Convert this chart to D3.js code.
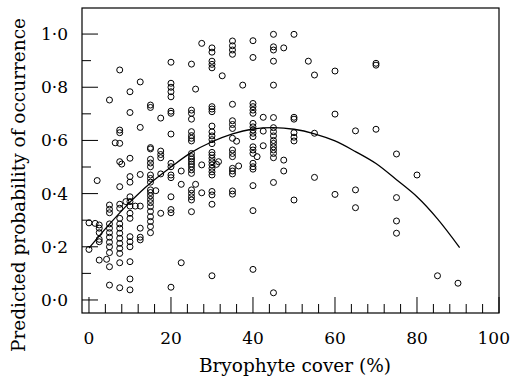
<!DOCTYPE html>
<html><head><meta charset="utf-8">
<script src="https://cdn.jsdelivr.net/npm/d3@7"></script>
<style>html,body{margin:0;padding:0;background:#fff;}svg{display:block;}</style>
</head><body>
<script>
// Observed points grouped by bryophyte cover column
const coverCols = [0, 1.5, 2, 2.5, 4.3, 5, 6.4, 7.5, 8, 9, 10, 11.3, 12.5, 15, 16.3, 17.5, 20, 22.5, 25, 26, 27.5, 30, 31.1, 31.6, 32.5, 35, 36, 36.5, 37.5, 40, 41, 42.5, 45, 47.5, 50, 53.5, 55, 60, 65, 70, 75, 80, 85, 90];
const probCols = [
  [0.29, 0.19],
  [0.288],
  [0.449],
  [0.282, 0.27, 0.253, 0.228, 0.219, 0.15],
  [0.153],
  [0.752, 0.357, 0.341, 0.328, 0.286, 0.27, 0.253, 0.236, 0.217, 0.2, 0.178, 0.125, 0.056],
  [0.591],
  [0.865, 0.639, 0.629, 0.589, 0.52, 0.426, 0.36, 0.345, 0.307, 0.286, 0.27, 0.251, 0.232, 0.213, 0.194, 0.175, 0.14, 0.046],
  [0.511],
  [0.37],
  [0.783, 0.705, 0.533, 0.464, 0.443, 0.388, 0.37, 0.353, 0.326, 0.307, 0.238, 0.219, 0.2, 0.144, 0.079, 0.038],
  [0.353],
  [0.82, 0.649, 0.472, 0.353, 0.27, 0.236, 0.226],
  [0.733, 0.724, 0.573, 0.568, 0.529, 0.515, 0.501, 0.47, 0.457, 0.443, 0.414, 0.404, 0.392, 0.378, 0.366, 0.351, 0.333, 0.313, 0.295, 0.276, 0.253],
  [0.411],
  [0.684, 0.56, 0.547, 0.535, 0.474, 0.326],
  [0.894, 0.815, 0.8, 0.783, 0.764, 0.71, 0.702, 0.624, 0.514, 0.501, 0.47, 0.46, 0.388, 0.34, 0.328, 0.048],
  [0.485, 0.435, 0.14],
  [0.887, 0.714, 0.702, 0.68, 0.633, 0.618, 0.608, 0.598, 0.551, 0.539, 0.53, 0.521, 0.511, 0.501, 0.489, 0.476, 0.414, 0.401, 0.388, 0.376, 0.332],
  [0.793, 0.435],
  [0.965, 0.508, 0.403],
  [0.948, 0.932, 0.898, 0.886, 0.873, 0.727, 0.718, 0.708, 0.654, 0.632, 0.617, 0.603, 0.588, 0.555, 0.545, 0.533, 0.52, 0.508, 0.495, 0.482, 0.47, 0.408, 0.395, 0.36, 0.091],
  [0.51],
  [0.52],
  [0.843],
  [0.974, 0.956, 0.94, 0.924, 0.736, 0.674, 0.66, 0.645, 0.608, 0.564, 0.551, 0.539, 0.495, 0.485, 0.474, 0.41, 0.398],
  [0.597],
  [0.504],
  [0.808],
  [0.975, 0.912, 0.739, 0.727, 0.714, 0.702, 0.664, 0.651, 0.639, 0.627, 0.614, 0.576, 0.564, 0.551, 0.514, 0.501, 0.492, 0.43, 0.336, 0.115],
  [0.539],
  [0.687, 0.635, 0.58],
  [0.999, 0.952, 0.94, 0.898, 0.808, 0.686, 0.648, 0.633, 0.617, 0.6, 0.589, 0.576, 0.564, 0.551, 0.535, 0.442, 0.027],
  [0.948, 0.526, 0.485],
  [0.999, 0.687, 0.68, 0.629, 0.612, 0.598, 0.376],
  [0.898],
  [0.846, 0.627, 0.461],
  [0.861, 0.699, 0.397],
  [0.636, 0.414, 0.347],
  [0.89, 0.883, 0.642],
  [0.549, 0.385, 0.297, 0.251],
  [0.47],
  [0.091],
  [0.063]
];
// Fitted curve
const fitCover = [0, 5, 10, 15, 20, 25, 30, 35, 40, 45, 50, 55, 60, 65, 70, 75, 80, 85, 90.4];
const fitProb = [0.195, 0.285, 0.368, 0.44, 0.5, 0.555, 0.595, 0.625, 0.643, 0.648, 0.642, 0.625, 0.598, 0.558, 0.513, 0.452, 0.388, 0.305, 0.197];
const xTickValues = [0, 20, 40, 60, 80, 100];
const xMinorTicks = d3.range(0, 101, 4);
const yTickValues = [0, 0.2, 0.4, 0.6, 0.8, 1.0];
const yTickLabels = ["0·0", "0·2", "0·4", "0·6", "0·8", "1·0"];
const yMinorTicks = [0.1, 0.3, 0.5, 0.7, 0.9];
const xTitle = "Bryophyte cover (%)";
const yTitle = "Predicted probability of occurrence";

const W = 512, H = 379;
const L = 82, R = 499, T = 8, B = 313;
const FONT = "'DejaVu Serif', serif";

const svg = d3.select("body").append("svg").attr("width", W).attr("height", H);
const x = d3.scaleLinear().domain([-1.7, 100]).range([L, R]);
const y = d3.scaleLinear().domain([-0.049, 1.098]).range([B, T]);

const points = [];
coverCols.forEach((c, i) => probCols[i].forEach(p => points.push([c, p])));

// frame
svg.append("rect").attr("x", L).attr("y", T).attr("width", R - L).attr("height", B - T)
  .attr("fill", "none").attr("stroke", "#000").attr("stroke-width", 1.2);

// x ticks (inward)
const gx = svg.append("g");
gx.selectAll("line.minor").data(xMinorTicks.filter(v => v % 20 !== 0)).join("line")
  .attr("x1", d => x(d)).attr("x2", d => x(d)).attr("y1", B).attr("y2", B - 9)
  .attr("stroke", "#000").attr("stroke-width", 1);
gx.selectAll("line.major").data(xTickValues).join("line")
  .attr("x1", d => x(d)).attr("x2", d => x(d)).attr("y1", B).attr("y2", B - 16)
  .attr("stroke", "#000").attr("stroke-width", 1);
gx.selectAll("text").data(xTickValues).join("text")
  .attr("x", d => x(d)).attr("y", 344).attr("text-anchor", "middle")
  .attr("font-family", FONT).attr("font-size", 17).text(d => d)
  .each(function() {
    const w = this.getComputedTextLength();
    const cx = +this.getAttribute("x");
    if (cx + w / 2 > W - 2) this.setAttribute("x", W - 2 - w / 2);
  });

// y ticks (inward)
const gy = svg.append("g");
gy.selectAll("line.minor").data(yMinorTicks).join("line")
  .attr("x1", L).attr("x2", L + 9).attr("y1", d => y(d)).attr("y2", d => y(d))
  .attr("stroke", "#000").attr("stroke-width", 1);
gy.selectAll("line.major").data(yTickValues).join("line")
  .attr("x1", L).attr("x2", L + 16).attr("y1", d => y(d)).attr("y2", d => y(d))
  .attr("stroke", "#000").attr("stroke-width", 1);
gy.selectAll("text").data(yTickValues).join("text")
  .attr("x", 68).attr("y", d => y(d) + 6).attr("text-anchor", "end")
  .attr("font-family", FONT).attr("font-size", 17).text((d, i) => yTickLabels[i]);

// titles
svg.append("text").attr("x", 295).attr("y", 372).attr("text-anchor", "middle")
  .attr("font-family", FONT).attr("font-size", 18.5).text(xTitle);
svg.append("text").attr("transform", `translate(25,185) rotate(-90)`)
  .attr("text-anchor", "middle").attr("font-family", FONT).attr("font-size", 18.5).text(yTitle);

// points
svg.append("g").selectAll("circle").data(points).join("circle")
  .attr("cx", d => x(d[0])).attr("cy", d => y(d[1])).attr("r", 3)
  .attr("fill", "none").attr("stroke", "#000").attr("stroke-width", 1);

// fitted curve
const line = d3.line().x(d => x(d[0])).y(d => y(d[1])).curve(d3.curveCatmullRom);
svg.append("path").datum(fitCover.map((c, i) => [c, fitProb[i]]))
  .attr("d", line).attr("fill", "none").attr("stroke", "#000").attr("stroke-width", 1.3);
</script>
</body></html>
